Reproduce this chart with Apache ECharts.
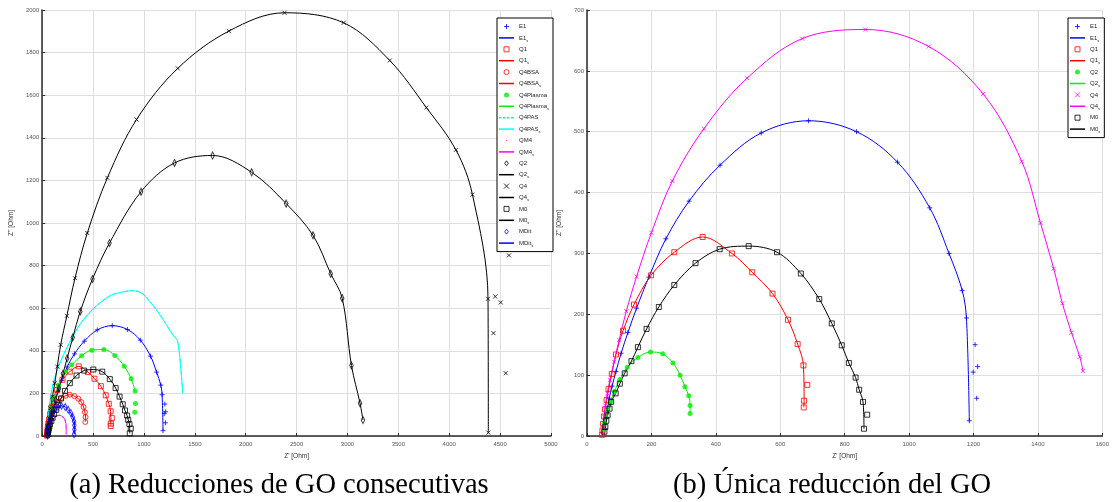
<!DOCTYPE html>
<html><head><meta charset="utf-8">
<script src="https://cdn.jsdelivr.net/npm/echarts@6/dist/echarts.min.js"></script>
<style>
html,body{margin:0;padding:0;background:#fff;}
#wrap{position:relative;width:1112px;height:502px;overflow:hidden;}
#ca{position:absolute;left:0;top:0;width:580px;height:502px;}
#cb{position:absolute;left:540px;top:0;width:572px;height:502px;}
</style></head><body>
<div id="wrap"><div id="ca"></div><div id="cb"></div></div>
<script>
// ---------- shared datasets ----------
const E1_pts = [[57,12],[61,30],[64,45],[69,62],[78,82],[90,106],[106,136],[127,170],[154,210],[192,261],[245,324],[317,386],[413,445],[541,498],[688,518],[837,500],[964,450],[1064,375],[1124,300],[1165,239],[1178,194],[1187,25]];
const E1_out = [[1205,150],[1213,114],[1199,105],[1210,62]];
const Q1_pts = [[47,2],[48,9],[50,20],[53,32],[56,44],[61,59],[67,77],[77,102],[90,134],[112,173],[146,216],[199,264],[271,302],[359,327],[450,300],[513,269],[576,234],[624,191],[654,151],[672,116],[674,58],[673,47]];
const Q1_out = [[684,84]];
const M0_pts = [[54,7],[57,15],[60,25],[64,34],[70,45],[75,56],[89,70],[102,86],[117,103],[138,123],[158,146],[185,176],[223,212],[271,248],[337,284],[412,307],[502,312],[590,302],[664,267],[721,225],[760,185],[791,149],[813,120],[834,96],[845,76],[857,56],[860,12]];
const M0_out = [[870,35]];
// ---------- plot (a) only ----------
const Q4BSA_pts = [[45,5],[50,25],[60,55],[75,85],[95,115],[120,140],[150,160],[187,178],[229,189],[271,194],[316,187],[355,175],[384,159],[406,136],[419,112],[426,89],[423,66]];
const Q4Plasma_pts = [[50,5],[58,40],[70,85],[88,130],[115,180],[160,240],[229,300],[290,334],[387,377],[487,403],[606,406],[713,378],[806,327],[874,269],[913,211]];
const Q4Plasma_out = [[916,152],[910,112]];
const Q4PAS_pts = [[42,2],[52,60],[70,140],[100,230],[140,300],[203,375],[300,467],[380,530],[477,585],[580,630],[687,663],[790,676],[881,682],[977,671],[1050,635],[1123,592],[1190,545],[1252,498],[1300,465],[1326,451],[1350,380],[1381,200]];
const QM4_pts = [[52,19],[74,50],[106,78],[139,94],[171,97],[203,89],[226,73],[235,42],[235,11]];
const Q2a_pts = [[52,3],[57,18],[68,45],[85,80],[105,120],[132,169],[165,224],[203,292],[245,365],[300,462],[374,585],[494,737],[661,906],[971,1147],[1300,1282],[1674,1317],[2058,1238],[2397,1091],[2661,942],[2835,762],[2948,647],[3039,331],[3123,154],[3152,75]];
const Q4a_pts = [[52,13],[58,44],[68,83],[81,130],[100,185],[123,248],[148,326],[181,428],[242,564],[322,741],[443,953],[640,1212],[927,1486],[1332,1726],[1834,1901],[2381,1987],[2962,1940],[3415,1763],[3775,1542],[4066,1343],[4228,1133],[4381,644],[4384,16]];
const Q4a_out = [[4452,655],[4506,627],[4435,483],[4587,848],[4555,295]];
const MDit_pts = [[48,11],[55,34],[65,58],[77,81],[97,105],[123,123],[155,136],[190,142],[226,136],[255,123],[281,108],[300,89],[313,69],[316,50],[316,30],[313,8]];
// ---------- plot (b) only ----------
const Q2b_pts = [[52,10],[54,21],[59,32],[64,44],[73,56],[85,73],[102,93],[125,113],[158,129],[197,138],[235,135],[267,120],[289,100],[304,81],[316,66],[320,50],[320,37]];
const Q4b_pts = [[48,3],[50,15],[53,32],[57,50],[63,70],[71,92],[84,122],[100,158],[122,205],[154,262],[200,334],[265,419],[363,505],[497,588],[668,653],[864,668],[1061,640],[1230,562],[1350,451],[1408,350],[1449,275],[1476,218],[1504,170],[1530,130],[1540,107]];
// ---------- axes / labels ----------
const xTicksA = {min:0, max:5000, interval:500};
const yTicksA = {min:0, max:2000, interval:200};
const xTicksB = {min:0, max:1600, interval:200};
const yTicksB = {min:0, max:700, interval:100};
const legendA = ['E1','E1_s','Q1','Q1_s','Q4BSA','Q4BSA_s','Q4Plasma','Q4Plasma_s','Q4PAS','Q4PAS_s','QM4','QM4_s','Q2','Q2_s','Q4','Q4_s','M0','M0_s','MDit','MDit_s'];
const legendB = ['E1','E1_s','Q1','Q1_s','Q2','Q2_s','Q4','Q4_s','M0','M0_s'];
const captionA = '(a) Reducciones de GO consecutivas';
const captionB = '(b) Única reducción del GO';

const SYM_PLUS = 'path://M0,5L10,5M5,0L5,10';
const SYM_X = 'path://M0,0L10,10M10,0L0,10';
const SYM_SQ = 'path://M0,0L10,0L10,10L0,10Z';
const SYM_DIA = 'path://M5,0L10,7L5,14L0,7Z';
const SYM_CIRC = 'path://M10,5A5,5,0,1,1,0,5A5,5,0,1,1,10,5Z';
const ICON_LINE = 'path://M0,0L30,0L30,3L0,3Z';
const ICON_DASH = 'path://M0,0L5,0L5,3L0,3ZM8,0L13,0L13,3L8,3ZM16,0L21,0L21,3L16,3ZM24,0L30,0L30,3L24,3Z';
const ICON_DOT = 'path://M0,0M10,10M4,4L6,4L6,6L4,6Z';
const BLUE='#0000ff', RED='#ff0000', GREEN='#00ee00', CYAN='#00ffff', MAG='#ff00ff', BLACK='#000000';

function mk(name, data, symbol, color, size, filled){
  return {type:'scatter', name, data, symbol, symbolSize:size, symbolKeepAspect:true, z:5,
    itemStyle:{color: filled?color:'rgba(0,0,0,0)', borderColor:color, borderWidth: filled?0:1},
    emphasis:{disabled:true}, animation:false};
}
function ln(name, data, color, dashed){
  return {type:'line', name, data, symbol:'none', showSymbol:false, smooth:0.35, z:3,
    lineStyle:{color, width:1, type: dashed?'dashed':'solid'}, itemStyle:{color},
    emphasis:{disabled:true}, animation:false};
}
const plain = v => String(v);
function axisX(t, name){
  return Object.assign({type:'value', name, nameLocation:'middle', nameGap:17,
    nameTextStyle:{fontSize:6.5, color:'#333', fontFamily:'Liberation Sans'},
    axisLine:{show:true, onZero:false, lineStyle:{color:'#2a2a2a', width:1.5}},
    axisTick:{show:true, inside:true, length:3, lineStyle:{color:'#2a2a2a'}},
    axisLabel:{fontSize:6, color:'#555', margin:5, fontFamily:'Liberation Sans', formatter:plain},
    splitLine:{show:true, lineStyle:{color:'#dedede', width:1}}}, t);
}
function axisY(t, name, gap){
  return Object.assign({type:'value', name, nameLocation:'middle', nameGap:gap,
    nameTextStyle:{fontSize:6.5, color:'#333', fontFamily:'Liberation Sans'},
    axisLine:{show:true, onZero:false, lineStyle:{color:'#2a2a2a', width:1.5}},
    axisTick:{show:true, inside:true, length:3, lineStyle:{color:'#2a2a2a'}},
    axisLabel:{fontSize:6, color:'#555', margin:3, fontFamily:'Liberation Sans', formatter:plain},
    splitLine:{show:true, lineStyle:{color:'#dedede', width:1}}}, t);
}
function legendItems(names, series){
  return names.map(n => {
    const s = series.find(x => x.name === n);
    if (s.type === 'line') {
      return {name:n, icon: s.lineStyle.type === 'dashed' ? ICON_DASH : ICON_LINE,
        itemStyle:{color:s.lineStyle.color, borderWidth:0}};
    }
    const icon = (s.symbolSize === 1.5) ? ICON_DOT : s.symbol;
    return {name:n, icon, itemStyle:{color:s.itemStyle.color, borderColor:s.itemStyle.borderColor, borderWidth:s.itemStyle.borderWidth}};
  });
}
function legend(names, series, left){
  return {show:true, orient:'vertical', left, top:18, data:legendItems(names, series),
    itemWidth:15, itemHeight:5, itemGap:2.4, padding:[4,4,4,2], symbolKeepAspect:true,
    backgroundColor:'#fff', borderColor:'#000', borderWidth:1, borderRadius:0,
    selectedMode:false,
    formatter: n => n.endsWith('_s') ? n.slice(0,-2)+'{s|s}' : n,
    textStyle:{fontSize:6, color:'#222', fontFamily:'Liberation Sans', lineHeight:9,
      rich:{s:{fontSize:4, color:'#222', padding:[5,0,0,0]}}}};
}
function caption(text, x){
  return {type:'text', x, y:486, style:{text, fontSize:28.5, fontFamily:'Liberation Serif', fill:'#000', align:'center', verticalAlign:'middle'}};
}

const seriesA = [
  ln('E1_s', E1_pts, BLUE), mk('E1', E1_pts.concat(E1_out), SYM_PLUS, BLUE, 5),
  ln('Q1_s', Q1_pts, RED), mk('Q1', Q1_pts.concat(Q1_out), SYM_SQ, RED, 5),
  ln('Q4BSA_s', Q4BSA_pts, RED), mk('Q4BSA', Q4BSA_pts, SYM_CIRC, RED, 5),
  ln('Q4Plasma_s', Q4Plasma_pts, GREEN), mk('Q4Plasma', Q4Plasma_pts.concat(Q4Plasma_out), 'circle', GREEN, 5, true),
  ln('Q4PAS', Q4PAS_pts, CYAN, true), ln('Q4PAS_s', Q4PAS_pts, CYAN),
  ln('QM4_s', QM4_pts, MAG), mk('QM4', QM4_pts, 'circle', MAG, 1.5, true),
  ln('Q2_s', Q2a_pts, BLACK), mk('Q2', Q2a_pts, SYM_DIA, BLACK, [5,7]),
  ln('Q4_s', Q4a_pts, BLACK), mk('Q4', Q4a_pts.concat(Q4a_out), SYM_X, BLACK, 4),
  ln('M0_s', M0_pts, BLACK), mk('M0', M0_pts.concat(M0_out), SYM_SQ, BLACK, 5),
  ln('MDit_s', MDit_pts, BLUE), mk('MDit', MDit_pts, SYM_DIA, BLUE, [5,7])
];
const seriesB = [
  ln('E1_s', E1_pts, BLUE), mk('E1', E1_pts.concat(E1_out), SYM_PLUS, BLUE, 5),
  ln('Q1_s', Q1_pts, RED), mk('Q1', Q1_pts.concat(Q1_out), SYM_SQ, RED, 5),
  ln('Q2_s', Q2b_pts, GREEN), mk('Q2', Q2b_pts, 'circle', GREEN, 5, true),
  ln('Q4_s', Q4b_pts, MAG), mk('Q4', Q4b_pts, SYM_X, MAG, 4),
  ln('M0_s', M0_pts, BLACK), mk('M0', M0_pts.concat(M0_out), SYM_SQ, BLACK, 5)
];

const chartA = echarts.init(document.getElementById('ca'), null, {renderer:'canvas'});
chartA.setOption({
  animation:false,
  grid:{left:36, right:29, top:10, bottom:66},
  xAxis: axisX(xTicksA, "Z' [Ohm]"),
  yAxis: axisY(yTicksA, "Z'' [Ohm]", 21),
  legend: legend(legendA, seriesA, 497),
  series: seriesA,
  graphic: [caption(captionA, 279)]
});
const chartB = echarts.init(document.getElementById('cb'), null, {renderer:'canvas'});
chartB.setOption({
  animation:false,
  grid:{left:47, right:8, top:10, bottom:66},
  xAxis: axisX(xTicksB, "Z' [Ohm]"),
  yAxis: axisY(yTicksB, "Z'' [Ohm]", 17),
  legend: legend(legendB, seriesB, 528),
  series: seriesB,
  graphic: [caption(captionB, 292)]
});
</script>
</body></html>
